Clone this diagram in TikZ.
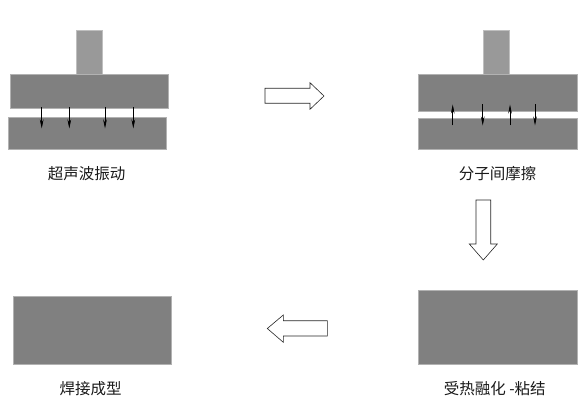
\documentclass[tikz,border=0pt]{standalone}
\usepackage{fontspec}
\newfontfamily\cjk{Noto Sans CJK SC}
\usetikzlibrary{arrows.meta}
\definecolor{plategray}{RGB}{128,128,128}
\definecolor{stemgray}{RGB}{153,153,153}
\begin{document}
\begin{tikzpicture}[x=1pt,y=-1pt,
  plate/.style={rectangle, fill=plategray, draw=gray!60, line width=0.4pt, inner sep=0pt, outer sep=0pt},
  stem/.style={rectangle, fill=stemgray, draw=gray!50, line width=0.4pt, inner sep=0pt, outer sep=0pt},
  lbl/.style={font=\cjk\fontsize{15.5pt}{17pt}\selectfont, text=black!90, inner sep=0pt},
  vib/.style={line width=0.6pt, -{Stealth[length=9pt,width=3.6pt]}},
  blockarrow/.style={draw=black!85, fill=white, line width=0.6pt, line join=miter}]
\useasboundingbox (0,0) rectangle (583,419);
% ---- panel 1: ultrasonic vibration
\node[stem, minimum width=26pt, minimum height=43.3pt] (s1) at (89,52.35) {};
\node[plate, minimum width=158pt, minimum height=34.3pt] (u1) at (89,91.15) {};
\node[plate, minimum width=157.4pt, minimum height=31.7pt] (l1) at (87,133.15) {};
\foreach \x in {41.7,69.3,105,133.3}{
  \draw[vib] (\x,107.5) -- (\x,128.5);
}
\node[lbl] (t1) at (86.7,174) {超声波振动};
% ---- panel 2: molecular friction
\node[stem, minimum width=26pt, minimum height=43.3pt] (s2) at (496.3,52.35) {};
\node[plate, minimum width=158.4pt, minimum height=37.7pt] (u2) at (497.5,92.85) {};
\node[plate, minimum width=158.4pt, minimum height=30.7pt] (l2) at (497.5,133.65) {};
\foreach \x in {452.7,510}{
  \draw[vib] (\x,125.5) -- (\x,104.5);
}
\foreach \x in {482.7,535}{
  \draw[vib] (\x,104.5) -- (\x,125.5);
}
\node[lbl] (t2) at (497.7,174) {分子间摩擦};
% ---- panel 3: heat melting / bonding
\node[plate, minimum width=158.4pt, minimum height=74.3pt] (m3) at (497.5,327.15) {};
\node[lbl] (t3) at (494.7,388.3) {受热融化 -粘结};
% ---- panel 4: welded
\node[plate, minimum width=158.3pt, minimum height=68.3pt] (m4) at (91.85,330.15) {};
\node[lbl] (t4) at (90.5,388.3) {焊接成型};
% ---- block arrows
\draw[blockarrow] (265,88.3) -- (310,88.3) -- (310,82.7) -- (324,96) -- (310,109.3) -- (310,103.3) -- (265,103.3) -- cycle;
\draw[blockarrow] (476,200) -- (490.7,200) -- (490.7,244) -- (497.3,244) -- (483.3,260) -- (469.3,244) -- (476,244) -- cycle;
\draw[blockarrow] (327.3,320.7) -- (283.3,320.7) -- (283.3,315) -- (267.3,328.5) -- (283.3,342.3) -- (283.3,336) -- (327.3,336) -- cycle;
\end{tikzpicture}
\end{document}
